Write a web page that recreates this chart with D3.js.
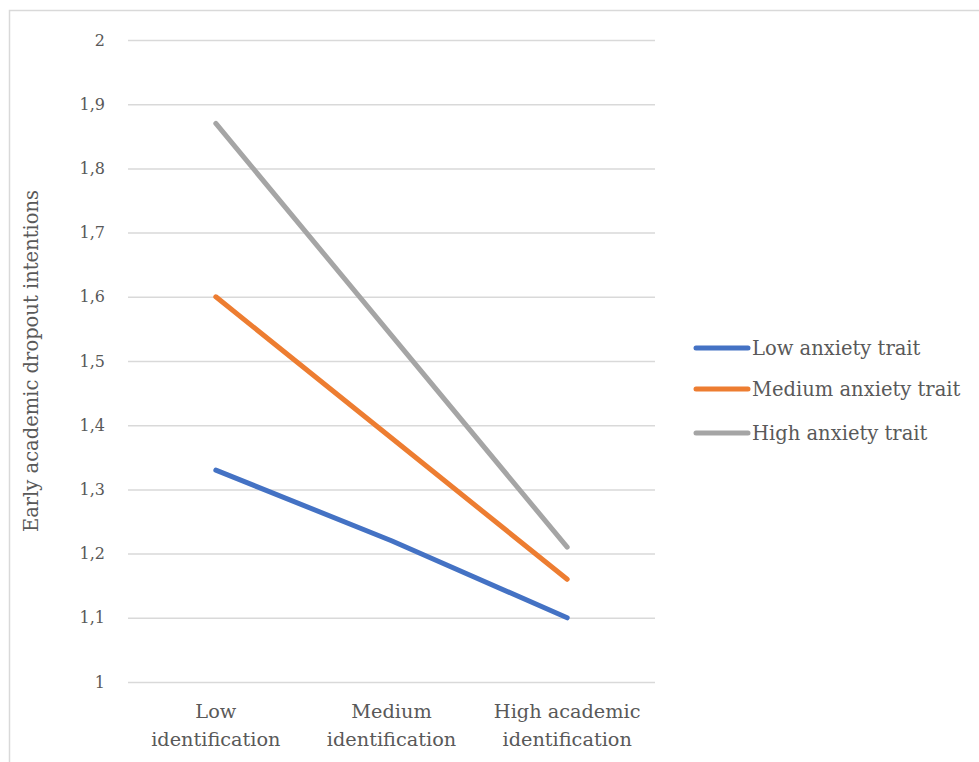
<!DOCTYPE html>
<html>
<head>
<meta charset="utf-8">
<script src="https://cdn.jsdelivr.net/npm/d3@7/dist/d3.min.js"></script>
<style>
  html, body { margin: 0; padding: 0; background: #fff; }
  svg { display: block; }
  text { font-family: "DejaVu Serif", serif; fill: #595959; }
</style>
</head>
<body>
<svg id="chart" width="979" height="762"></svg>
<script>
const categories = [["Low", "identification"], ["Medium", "identification"], ["High academic", "identification"]];
const seriesNames = ["Low anxiety trait", "Medium anxiety trait", "High anxiety trait"];
const lowAnxiety = [1.33, 1.22, 1.10];
const mediumAnxiety = [1.60, 1.38, 1.16];
const highAnxiety = [1.87, 1.54, 1.21];
const yTicks = [1, 1.1, 1.2, 1.3, 1.4, 1.5, 1.6, 1.7, 1.8, 1.9, 2];
const colors = ["#4472c4", "#ed7d31", "#a5a5a5"];
const yTitle = "Early academic dropout intentions";

const series = [lowAnxiety, mediumAnxiety, highAnxiety];
const svg = d3.select("#chart");

// outer border
svg.append("rect").attr("x", 9.5).attr("y", 10.5).attr("width", 1000).attr("height", 800)
  .attr("fill", "none").attr("stroke", "#d9d9d9").attr("stroke-width", 1.5);

const plot = { left: 128, right: 655, top: 40, bottom: 682 };
const x = d3.scaleBand().domain(d3.range(categories.length)).range([plot.left, plot.right]);
const y = d3.scaleLinear().domain([1, 2]).range([plot.bottom, plot.top]);

// gridlines
const yAxis = d3.axisLeft(y).tickValues(yTicks).tickSize(-(plot.right - plot.left))
  .tickPadding(23).tickFormat(d => d3.format(".1f")(d).replace(".", ",").replace(",0", ""));
const gy = svg.append("g").attr("transform", `translate(${plot.left},0)`).call(yAxis);
gy.select(".domain").remove();
gy.selectAll(".tick line").attr("stroke", "#d9d9d9").attr("stroke-width", 1.5);
gy.selectAll(".tick text").attr("font-size", 16).style("font-family", "DejaVu Serif, serif").attr("fill", "#595959");

// x axis labels
const gx = svg.append("g");
categories.forEach((c, i) => {
  const t = gx.append("text").attr("x", x(i) + x.bandwidth() / 2).attr("y", 718)
    .attr("text-anchor", "middle").attr("font-size", 19.3);
  c.forEach((line, j) => {
    t.append("tspan").attr("x", x(i) + x.bandwidth() / 2).attr("dy", j === 0 ? 0 : 28).text(line);
  });
});

// y title
svg.append("text").attr("transform", `translate(38,${(plot.top + plot.bottom) / 2}) rotate(-90)`)
  .attr("text-anchor", "middle").attr("font-size", 19.5).text(yTitle);

// lines
const line = d3.line().x((d, i) => x(i) + x.bandwidth() / 2).y(d => y(d));
series.forEach((s, k) => {
  svg.append("path").datum(s).attr("d", line).attr("fill", "none")
    .attr("stroke", colors[k]).attr("stroke-width", 5).attr("stroke-linecap", "round").attr("stroke-linejoin", "round");
});

// legend
const legY = [348, 389, 433];
seriesNames.forEach((n, k) => {
  svg.append("line").attr("x1", 696).attr("x2", 748).attr("y1", legY[k]).attr("y2", legY[k])
    .attr("stroke", colors[k]).attr("stroke-width", 5).attr("stroke-linecap", "round");
  svg.append("text").attr("x", 752).attr("y", legY[k] + 7).attr("font-size", 19.5).text(n);
});
</script>
</body>
</html>
